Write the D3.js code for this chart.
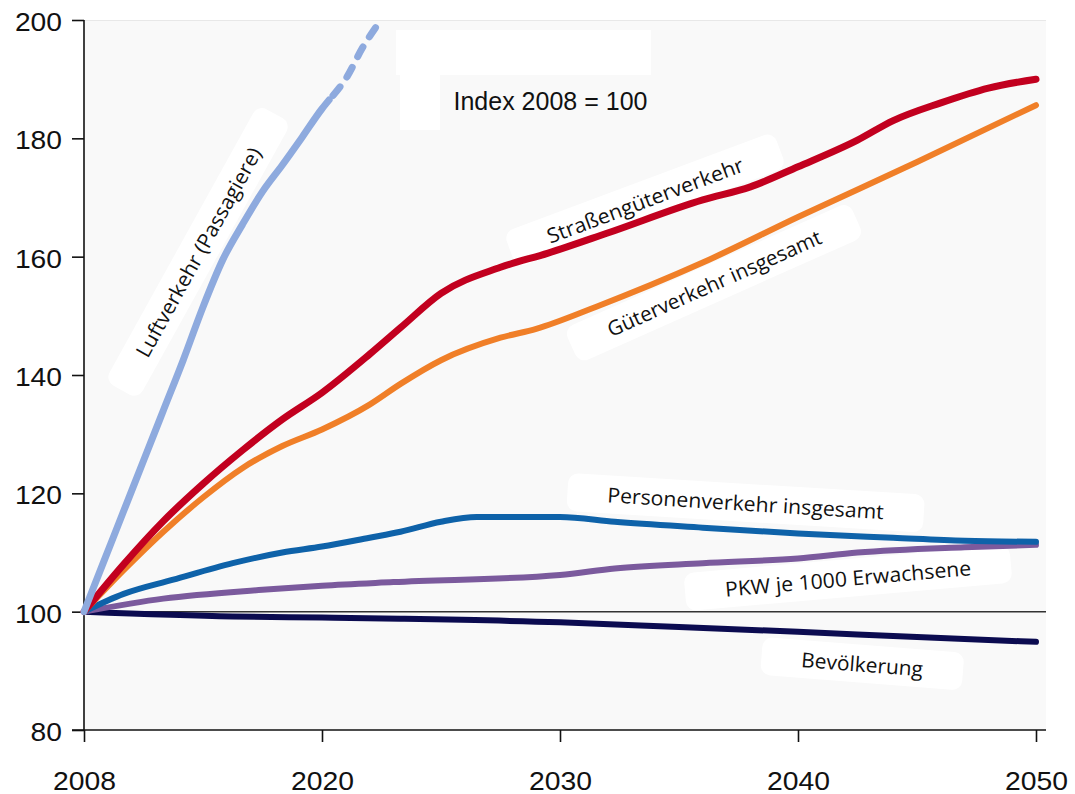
<!DOCTYPE html>
<html><head><meta charset="utf-8">
<script src="https://cdn.jsdelivr.net/npm/d3@7"></script>
<style>html,body{margin:0;padding:0;background:#fff;}svg{display:block;}</style>
</head><body>
<svg id="c" width="1075" height="794"></svg>
<script>
// ---- data ----
const xTicks = [2008, 2020, 2030, 2040, 2050];
const yTicks = [80, 100, 120, 140, 160, 180, 200];

const luftYears = [2008, 2009, 2010, 2011, 2012, 2013, 2014, 2015, 2016, 2017, 2018, 2019, 2020, 2020.3];
const luftValues = [100, 108.5, 117, 125.5, 134, 142.5, 151.5, 159.5, 165.5, 171, 175.5, 180.2, 185, 186.5];
const luftDashYears = [2020.3, 2021.05, 2021.7, 2022.3];
const luftDashValues = [186.5, 190.4, 195.3, 199];

const strasseYears = [2008, 2010, 2012, 2014, 2016, 2018, 2020, 2022, 2023.3, 2025, 2027.5, 2029.5, 2032, 2036, 2038, 2040, 2042.5, 2044, 2046, 2048, 2050];
const strasseValues = [100, 108, 115.3, 121.6, 127.3, 132.5, 137, 143.5, 148, 153.8, 158.2, 160.6, 164, 169.6, 171.8, 175.2, 179.7, 183, 186, 188.5, 190];

const gueterYears = [2008, 2010, 2012, 2014, 2016, 2018, 2020, 2022, 2023.3, 2025, 2027.5, 2029, 2031.5, 2036, 2040, 2045, 2050];
const gueterValues = [100, 107, 113.5, 119.3, 124.3, 128, 130.8, 135, 138.5, 142.5, 146.3, 147.8, 151.5, 159, 166.7, 176, 185.6];

const personenYears = [2008, 2010, 2012.5, 2015.5, 2018, 2020, 2022, 2023.3, 2025, 2026.5, 2028, 2030, 2032.3, 2036, 2040, 2044, 2047, 2050];
const personenValues = [100, 103, 105.4, 108.2, 110, 111, 112.5, 113.5, 115.2, 116, 116, 116, 115.2, 114.2, 113.2, 112.5, 112, 111.8];

const pkwYears = [2008, 2012, 2017, 2020, 2023, 2030, 2032.3, 2036, 2040, 2042.5, 2047, 2050];
const pkwValues = [100, 102.2, 103.7, 104.4, 105, 106.2, 107.3, 108.2, 109, 110, 110.9, 111.3];

const bevYears = [2008, 2015.5, 2020, 2023.3, 2030, 2035, 2040, 2045, 2050];
const bevValues = [100, 99.2, 99, 98.8, 98.2, 97.4, 96.6, 95.7, 94.9];

const labelTexts = ["Luftverkehr (Passagiere)", "Straßengüterverkehr", "Güterverkehr insgesamt",
  "Personenverkehr insgesamt", "PKW je 1000 Erwachsene", "Bevölkerung"];
const indexNote = "Index 2008 = 100";

// ---- layout ----
const svg = d3.select("#c");
const x = d3.scaleLinear().domain([2008, 2020, 2050]).range([84, 322, 1036]);
const y = d3.scaleLinear().domain([80, 200]).range([730, 20]);
const plotRight = 1046;
const tickFont = "Liberation Sans, Arial, sans-serif";

// plot background
svg.append("rect").attr("x", 84).attr("y", 20).attr("width", plotRight - 84).attr("height", 710)
  .attr("fill", "#f9f9f9");
svg.append("line").attr("x1", 84).attr("x2", plotRight).attr("y1", 20.5).attr("y2", 20.5)
  .attr("stroke", "#e8e8e8").attr("stroke-width", 1);

// white patches (label backgrounds)
svg.append("rect").attr("x", 396).attr("y", 30).attr("width", 255).attr("height", 45).attr("fill", "#fff");
svg.append("rect").attr("x", 400).attr("y", 75).attr("width", 40).attr("height", 55).attr("fill", "#fff");

const labels = [
  {t: labelTexts[0], yr: 2013.75, v: 160.8, a: -61, len: 236},
  {t: labelTexts[1], yr: 2033.57, v: 169.6, a: -20.5, len: 208},
  {t: labelTexts[2], yr: 2036.47, v: 155.6, a: -24, len: 232},
  {t: labelTexts[3], yr: 2037.8, v: 118.4, a: 3.5, len: 277},
  {t: labelTexts[4], yr: 2042.1, v: 105.7, a: -5, len: 247},
  {t: labelTexts[5], yr: 2042.7, v: 91.2, a: 4.5, len: 122}
];
const lg = svg.append("g");
labels.forEach(l => {
  const g = lg.append("g").attr("transform", `translate(${x(l.yr)},${y(l.v)}) rotate(${l.a})`);
  g.append("rect").attr("x", -l.len / 2 - 40).attr("y", -19).attr("width", l.len + 80).attr("height", 38)
    .attr("rx", 10).attr("fill", "#fff");
});

// axes
svg.append("line").attr("x1", 84).attr("x2", 84).attr("y1", 20).attr("y2", 730)
  .attr("stroke", "#111").attr("stroke-width", 1.6);
svg.append("line").attr("x1", 72).attr("x2", plotRight).attr("y1", 730).attr("y2", 730)
  .attr("stroke", "#111").attr("stroke-width", 1.6);
const yAxis = d3.axisLeft(y).tickValues(yTicks).tickSize(12).tickPadding(10);
svg.append("g").attr("transform", "translate(84,0)").call(yAxis)
  .call(g => g.select(".domain").remove())
  .call(g => g.selectAll("line").attr("stroke", "#111").attr("stroke-width", 1.6))
  .call(g => g.selectAll("text").attr("font-family", tickFont).attr("dy", "0.42em")
    .attr("font-size", 25).attr("fill", "#111")
    .attr("textLength", d => String(d).length * 15.7).attr("lengthAdjust", "spacingAndGlyphs"));
const xAxis = d3.axisBottom(x).tickValues(xTicks).tickFormat(d3.format("d")).tickSize(12).tickPadding(30);
svg.append("g").attr("transform", "translate(0,730)").call(xAxis)
  .call(g => g.select(".domain").remove())
  .call(g => g.selectAll("line").attr("stroke", "#111").attr("stroke-width", 1.6))
  .call(g => g.selectAll("text").attr("font-family", tickFont)
    .attr("font-size", 25).attr("fill", "#111")
    .attr("textLength", 63).attr("lengthAdjust", "spacingAndGlyphs"));

// reference line at 100
svg.append("line").attr("x1", 84).attr("x2", plotRight).attr("y1", y(100)).attr("y2", y(100))
  .attr("stroke", "#333").attr("stroke-width", 1.5);

// series
const line = d3.line().x(d => x(d[0])).y(d => y(d[1])).curve(d3.curveMonotoneX);
const zip = (a, b) => a.map((v, i) => [v, b[i]]);
const series = [
  {d: zip(bevYears, bevValues), c: "#0b0b50", w: 6},
  {d: zip(pkwYears, pkwValues), c: "#7b5a9d", w: 6},
  {d: zip(personenYears, personenValues), c: "#0e62a9", w: 6},
  {d: zip(gueterYears, gueterValues), c: "#f07f28", w: 6},
  {d: zip(strasseYears, strasseValues), c: "#c2001f", w: 7},
  {d: zip(luftYears, luftValues), c: "#8eaade", w: 7}
];
series.forEach(s => {
  svg.append("path").attr("d", line(s.d)).attr("fill", "none").attr("stroke", s.c)
    .attr("stroke-width", s.w).attr("stroke-linecap", "round").attr("stroke-linejoin", "round");
});
svg.append("path").attr("d", line(zip(luftDashYears, luftDashValues))).attr("fill", "none")
  .attr("stroke", "#8eaade").attr("stroke-width", 7).attr("stroke-linecap", "round")
  .attr("stroke-dasharray", "11,12").attr("stroke-dashoffset", -6);

// label texts
labels.forEach(l => {
  svg.append("text").attr("transform", `translate(${x(l.yr)},${y(l.v)}) rotate(${l.a})`)
    .attr("text-anchor", "middle").attr("dominant-baseline", "central")
    .attr("font-family", "Open Sans, sans-serif").attr("font-size", 20.5).attr("fill", "#111")
    .attr("textLength", l.len).attr("lengthAdjust", "spacingAndGlyphs").text(l.t);
});
svg.append("text").attr("x", x(2029.6)).attr("y", 110).attr("text-anchor", "middle")
  .attr("font-family", tickFont).attr("font-size", 25).attr("fill", "#111")
  .text(indexNote);
</script>
</body></html>
